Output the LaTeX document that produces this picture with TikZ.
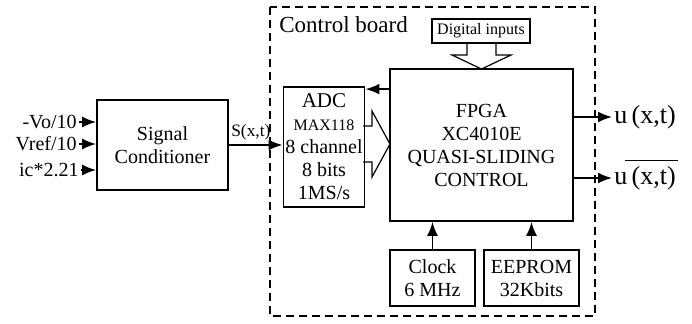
\documentclass[tikz,border=0pt]{standalone}
\usepackage{fontspec}
\setmainfont{Liberation Serif}
\usetikzlibrary{arrows.meta}
\tikzstyle{boite} = [draw, line width=0.9pt, align=center, inner sep=1pt, font=\fontsize{10}{11.5}\selectfont]
\tikzstyle{fleche} = [-{Latex[length=7pt,width=5.5pt]}, line width=0.9pt]
\tikzstyle{creux} = [line width=0.6pt]
\tikzstyle{texte} = [inner sep=1pt, font=\fontsize{10}{11.5}\selectfont]

\begin{document}
\begin{tikzpicture}[x=0.5pt,y=-0.5pt]
	\useasboundingbox (0,0) rectangle (692,323);

	% control board
	\draw[line width=0.9pt, dash pattern=on 4pt off 2.5pt] (270,7) rectangle (595,316);
	\node[anchor=west, inner sep=1pt, font=\fontsize{11.5}{13}\selectfont] (board) at (277,25) {Control board};

	\node[boite, minimum width=65.5pt, minimum height=45pt] (cond) at (162.5,145) {Signal\\Conditioner};
	\node[boite, minimum width=39pt, minimum height=60pt] (adc) at (324,147)
		{{\fontsize{10.5}{11.5}\selectfont ADC}\\{\fontsize{8}{11.5}\selectfont MAX118}\\8 channel\\8 bits\\1MS/s};
	\node[boite, minimum width=91.5pt, minimum height=76pt] (fpga) at (481.5,145)
		{FPGA\\XC4010E\\QUASI-SLIDING\\CONTROL};
	\node[boite, minimum width=49pt, minimum height=12pt, font=\fontsize{8}{9}\selectfont] (dig) at (481,31) {Digital inputs};
	\node[boite, minimum width=42.5pt, minimum height=28pt] (clk) at (432.5,278) {Clock\\6 MHz};
	\node[boite, minimum width=47.5pt, minimum height=28pt] (eep) at (531.5,278) {EEPROM\\32Kbits};

	% inputs
	\node[texte, anchor=east] (vo) at (79,122) {-Vo/10};
	\node[texte, anchor=east] (vref) at (79,144) {Vref/10};
	\node[texte, anchor=east] (ic) at (81,170) {ic*2.21};
	\draw[fleche] (vo.east) -- (vo.east -| cond.west);
	\draw[fleche] (vref.east) -- (vref.east -| cond.west);
	\draw[fleche] (ic.east) -- (ic.east -| cond.west);

	\draw[fleche] (cond.east) -- (cond.east -| adc.west);
	\node[anchor=south west, inner sep=1pt, font=\fontsize{8.7}{10}\selectfont] (sxt) at ([yshift=1pt]cond.east) {S(x,t)};

	\draw[fleche] ([yshift=-10.5pt]fpga.north west) -- ([yshift=-10.5pt]fpga.north west -| adc.east);

	% bus arrows
	\draw[creux] (363,126) -- (372,126) -- (372,111) -- (390,144) -- (372,177) -- (372,162) -- (363,162);
	\draw[creux] (467,43) -- (467,55) -- (452,55) -- (481.5,69) -- (511,55) -- (496,55) -- (496,43);

	% outputs
	\node[anchor=west, inner sep=1pt, font=\fontsize{13}{14}\selectfont] (u1) at (612,117) {u\,(x,t)};
	\node[anchor=west, inner sep=1pt, font=\fontsize{13}{14}\selectfont] (u2) at (612,178) {u\,(x,t)};
	\draw[fleche] (u1.west -| fpga.east) -- (u1.west);
	\draw[fleche] (u2.west -| fpga.east) -- (u2.west);
	\draw[line width=0.6pt] ([xshift=6.5pt,yshift=1.5pt]u2.north west) -- ([yshift=1.5pt]u2.north east);

	\draw[fleche] (clk) -- (clk |- fpga.south);
	\draw[fleche] (eep) -- (eep |- fpga.south);
\end{tikzpicture}
\end{document}
